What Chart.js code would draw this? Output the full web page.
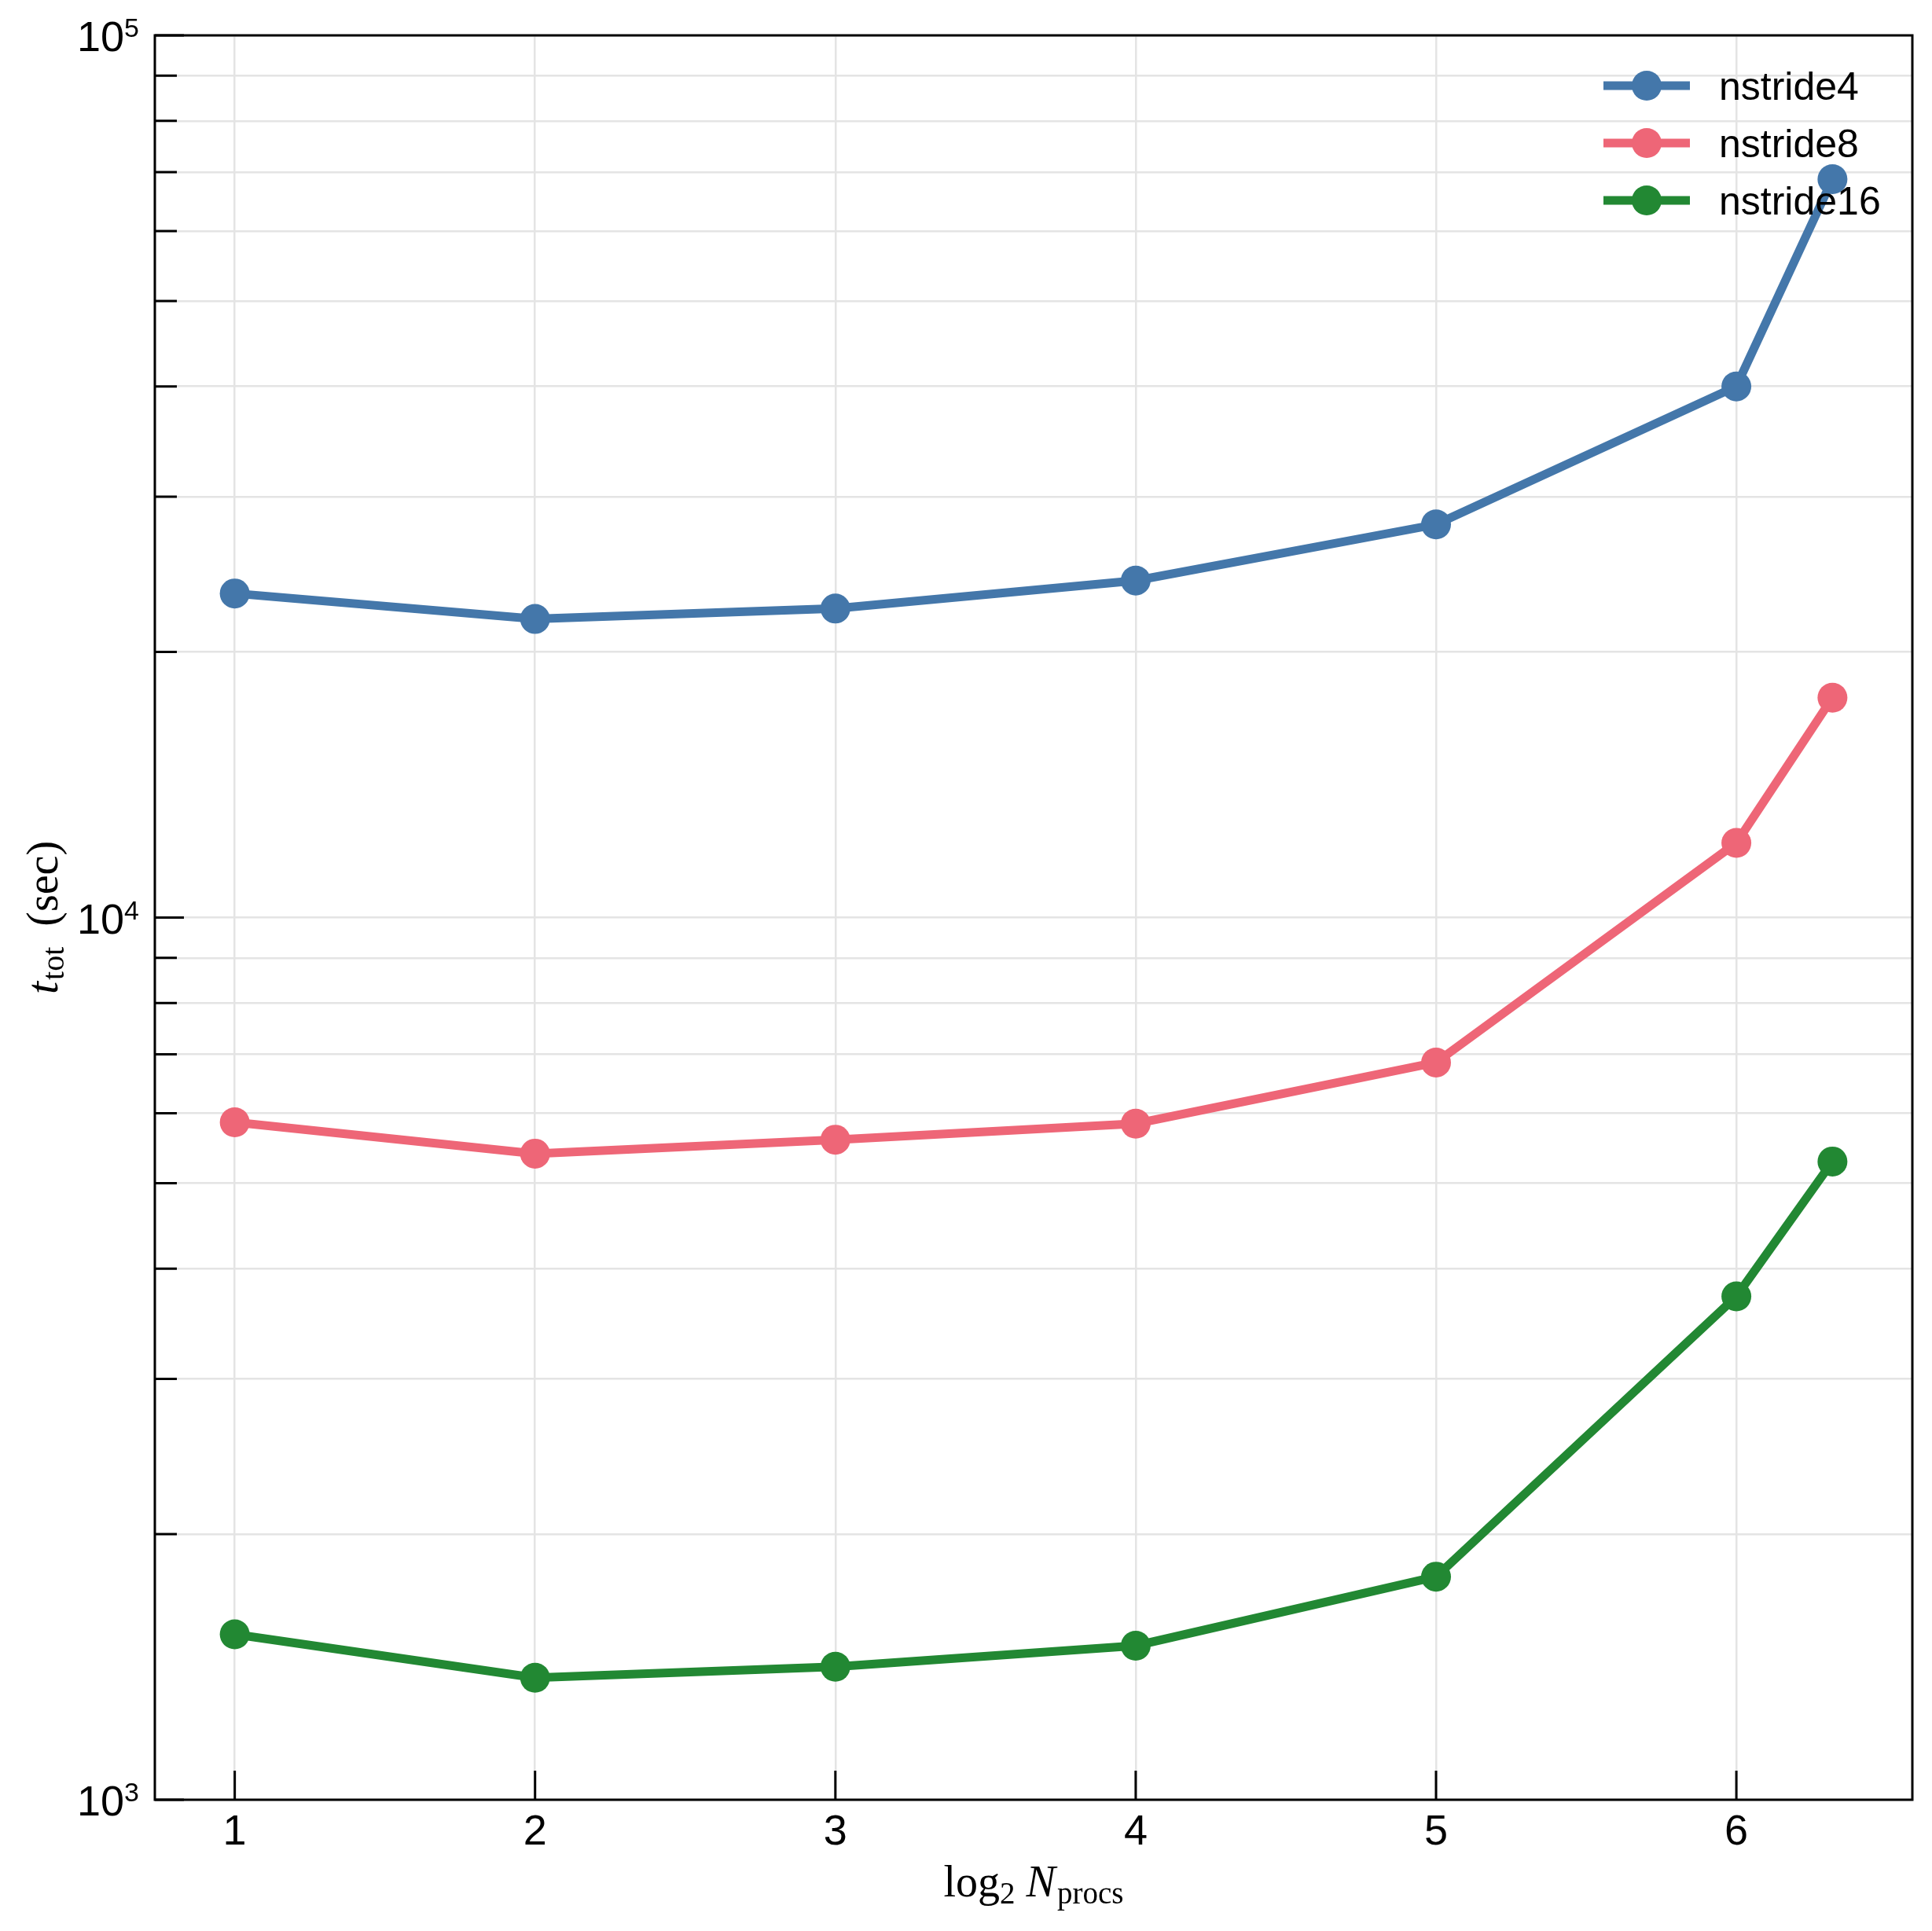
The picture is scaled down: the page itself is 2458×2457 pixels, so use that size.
<!DOCTYPE html>
<html>
<head>
<meta charset="utf-8">
<script src="https://cdn.jsdelivr.net/npm/chart.js@4.4.1/dist/chart.umd.min.js"></script>
<style>
  html, body { margin: 0; padding: 0; background: #fff; }
  #wrap { width: 2458px; height: 2457px; }
</style>
</head>
<body>
<div id="wrap"><canvas id="timing" width="2458" height="2457"></canvas></div>
<script>
// values
const log2Nprocs = [1, 2, 3, 4, 5, 6, 6.32]
const nstride4 = [23300, 21800, 22400, 24100, 27900, 40000, 68700]
const nstride8 = [5860, 5400, 5600, 5840, 6850, 12150, 17750]
const nstride16 = [1540, 1375, 1415, 1495, 1790, 3720, 5290]

const seriesNames = ['nstride4', 'nstride8', 'nstride16']
const seriesColors = ['#4477AA', '#EE6677', '#228833']

const xTicks = [1, 2, 3, 4, 5, 6]
const yMajorTicks = [1000, 10000, 100000]
const yMajorExponents = ['3', '4', '5']
const yMinorTicks = [2000, 3000, 4000, 5000, 6000, 7000, 8000, 9000,
  20000, 30000, 40000, 50000, 60000, 70000, 80000, 90000]

const SANS = '"Liberation Sans", Arial, sans-serif'
const SERIF = '"Liberation Serif", "Times New Roman", serif'

const toPoints = (ys) => log2Nprocs.map((x, i) => ({ x: x, y: ys[i] }))

// draw a run of text pieces (font / baseline shift) starting at x
const drawPieces = (ctx, pieces, x0, y0) => {
  let x = x0
  pieces.forEach((p) => {
    ctx.font = p.font
    if (p.text) ctx.fillText(p.text, x, y0 + (p.dy || 0))
    x += (p.text ? ctx.measureText(p.text).width : 0) + (p.gap || 0)
  })
  return x - x0
}

const measurePieces = (ctx, pieces) => {
  let w = 0
  pieces.forEach((p) => {
    ctx.font = p.font
    w += (p.text ? ctx.measureText(p.text).width : 0) + (p.gap || 0)
  })
  return w
}

const axesDecor = {
  id: 'axesDecor',
  afterDatasetsDraw(chart) {
    const { ctx, chartArea: a } = chart
    const xs = chart.scales.x
    const ys = chart.scales.y
    ctx.save()

    // frame
    ctx.strokeStyle = '#000'
    ctx.lineWidth = 3
    ctx.strokeRect(a.left, a.top, a.right - a.left, a.bottom - a.top)

    // inward ticks
    ctx.beginPath()
    xTicks.forEach((v) => {
      const px = xs.getPixelForValue(v)
      ctx.moveTo(px, a.bottom)
      ctx.lineTo(px, a.bottom - 37)
    })
    yMajorTicks.forEach((v) => {
      const py = ys.getPixelForValue(v)
      ctx.moveTo(a.left, py)
      ctx.lineTo(a.left + 37, py)
    })
    yMinorTicks.forEach((v) => {
      const py = ys.getPixelForValue(v)
      ctx.moveTo(a.left, py)
      ctx.lineTo(a.left + 28, py)
    })
    ctx.stroke()

    // tick labels
    ctx.fillStyle = '#000'
    ctx.textBaseline = 'alphabetic'
    ctx.textAlign = 'center'
    ctx.font = '54px ' + SANS
    xTicks.forEach((v) => {
      ctx.fillText(String(v), xs.getPixelForValue(v), a.bottom + 57)
    })

    ctx.textAlign = 'left'
    yMajorTicks.forEach((v, i) => {
      const py = ys.getPixelForValue(v)
      const pieces = [
        { text: '10', font: '54px ' + SANS },
        { text: yMajorExponents[i], font: '34px ' + SANS, dy: -18 },
      ]
      const w = measurePieces(ctx, pieces)
      drawPieces(ctx, pieces, a.left - 20 - w, py + 20)
    })

    // x axis title
    const xTitle = [
      { text: 'log', font: '56px ' + SERIF },
      { text: '2', font: '39px ' + SERIF, dy: 9, gap: 14 },
      { text: 'N', font: 'italic 56px ' + SERIF, gap: 2 },
      { text: 'procs', font: '39px ' + SERIF, dy: 9 },
    ]
    const xcx = (a.left + a.right) / 2
    drawPieces(ctx, xTitle, xcx - measurePieces(ctx, xTitle) / 2, 2413)

    // y axis title (rotated)
    const yTitle = [
      { text: 't', font: 'italic 58px ' + SERIF, gap: 2 },
      { text: 'tot', font: '40px ' + SERIF, dy: 8, gap: 26 },
      { text: '(sec)', font: '56px ' + SERIF },
    ]
    ctx.save()
    ctx.translate(73, (a.top + a.bottom) / 2)
    ctx.rotate(-Math.PI / 2)
    drawPieces(ctx, yTitle, -measurePieces(ctx, yTitle) / 2, 0)
    ctx.restore()

    // legend, upper right
    chart.data.datasets.forEach((ds, i) => {
      const cy = 109 + i * 73
      ctx.strokeStyle = ds.borderColor
      ctx.lineWidth = 11
      ctx.beginPath()
      ctx.moveTo(2040, cy)
      ctx.lineTo(2150, cy)
      ctx.stroke()
      ctx.fillStyle = ds.borderColor
      ctx.beginPath()
      ctx.arc(2095, cy, 19, 0, Math.PI * 2)
      ctx.fill()
      ctx.fillStyle = '#000'
      ctx.font = '50px ' + SANS
      ctx.fillText(ds.label, 2187, cy + 18)
    })

    ctx.restore()
  },
}

const makeDataset = (i, ys) => ({
  label: seriesNames[i],
  data: toPoints(ys),
  borderColor: seriesColors[i],
  backgroundColor: seriesColors[i],
  pointBackgroundColor: seriesColors[i],
  borderWidth: 11,
  pointRadius: 19,
  pointBorderWidth: 0,
  pointHoverRadius: 19,
  tension: 0,
})

const onPageLoad = () => {
  const xSpan = log2Nprocs[log2Nprocs.length - 1] - log2Nprocs[0]
  new Chart(document.getElementById('timing'), {
    type: 'line',
    data: {
      datasets: [
        makeDataset(0, nstride4),
        makeDataset(1, nstride8),
        makeDataset(2, nstride16),
      ],
    },
    options: {
      responsive: false,
      devicePixelRatio: 1,
      animation: false,
      layout: { padding: { left: 197, top: 45, right: 25, bottom: 167 } },
      plugins: { legend: { display: false }, tooltip: { enabled: false } },
      scales: {
        x: {
          type: 'linear',
          min: log2Nprocs[0] - 0.05 * xSpan,
          max: log2Nprocs[log2Nprocs.length - 1] + 0.05 * xSpan,
          afterBuildTicks: (scale) => { scale.ticks = xTicks.map((v) => ({ value: v })) },
          ticks: { display: false },
          grid: { color: '#e4e4e4', lineWidth: 2.5, drawTicks: false },
          border: { display: false },
        },
        y: {
          type: 'logarithmic',
          min: 1000,
          max: 100000,
          afterBuildTicks: (scale) => {
            scale.ticks = yMajorTicks.concat(yMinorTicks).map((v) => ({ value: v }))
          },
          ticks: { display: false },
          grid: { color: '#e4e4e4', lineWidth: 2.5, drawTicks: false },
          border: { display: false },
        },
      },
    },
    plugins: [axesDecor],
  })
}

document.addEventListener('DOMContentLoaded', onPageLoad)
</script>
</body>
</html>
